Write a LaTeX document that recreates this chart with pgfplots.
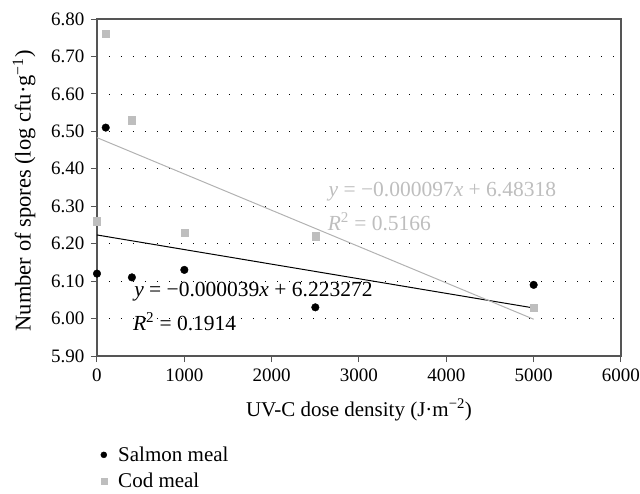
\documentclass[border=0pt]{standalone}
\usepackage{fontspec}
\setmainfont{Liberation Serif}
\usepackage{pgfplots}
\pgfplotsset{compat=1.18}
\definecolor{axgray}{RGB}{85,85,85}
\definecolor{codgray}{RGB}{190,190,190}
\definecolor{codline}{RGB}{178,178,178}
\begin{document}
\begin{tikzpicture}
\useasboundingbox (-97pt,-137pt) rectangle (543pt,356pt);
\begin{axis}[
  scale only axis, width=524pt, height=337pt,
  xmin=0, xmax=6000, ymin=5.90, ymax=6.80,
  xtick={0,1000,...,6000}, ytick={5.9,6.0,...,6.81},
  tick pos=left, tick align=outside,
  major tick length=6pt,
  axis line style={axgray, line width=1.1pt},
  every tick/.style={axgray, line width=1pt},
  ymajorgrids, major grid style={black, line width=0.7pt, dash pattern=on 0.7pt off 11.3pt},
  /pgf/number format/assume math mode=true,
  tick label style={font=\fontsize{19}{22}\selectfont},
  yticklabel style={xshift=-3pt, /pgf/number format/.cd, fixed, fixed zerofill, precision=2},
  xticklabel style={yshift=-3pt, /pgf/number format/1000 sep={}},
  xlabel={UV-C dose density (J·m\textsuperscript{−2})},
  ylabel={Number of spores (log cfu·g\textsuperscript{−1})},
  xlabel style={at={(axis description cs:0.5,-0.160)}, anchor=center, font=\fontsize{21}{24}\selectfont},
  ylabel style={at={(axis description cs:-0.139,0.49)}, anchor=center, font=\fontsize{22.5}{26}\selectfont},
  legend style={at={(0.0,-0.257)}, anchor=north west, draw=none, fill=none,
    font=\fontsize{21}{24}\selectfont, row sep=6pt, legend cell align=left,
    nodes={inner sep=2pt}},
  legend image code/.code={\draw[#1, mark size=3pt] plot coordinates {(0.12cm,0cm)}; \path (0cm,0cm) (0.55cm,0cm);},
  clip=false,
]
\addplot[only marks, mark=*, mark size=3.8pt, black] coordinates {
  (0,6.12) (100,6.51) (400,6.11) (1000,6.13) (2500,6.03) (5000,6.09)};
\addlegendentry{Salmon meal}
\addplot[only marks, mark=square*, mark size=3.6pt, codgray, mark options={draw=codgray, fill=codgray}] coordinates {
  (0,6.26) (100,6.76) (400,6.53) (1000,6.23) (2500,6.22) (5000,6.03)};
\addlegendentry{Cod meal}
\addplot[black, line width=1pt, forget plot] coordinates {(0,6.223272) (5000,6.028272)};
\addplot[codline, line width=1pt, forget plot] coordinates {(0,6.48318) (5000,5.99818)};
\node[anchor=west, inner sep=0pt, font=\fontsize{21.5}{24}\selectfont] at (axis cs:425,6.072) {\textit{y} = −0.000039\textit{x} + 6.223272};
\node[anchor=west, inner sep=0pt, font=\fontsize{21.5}{24}\selectfont] at (axis cs:410,5.992) {\textit{R}\textsuperscript{2} = 0.1914};
\node[anchor=west, inner sep=0pt, font=\fontsize{21.5}{24}\selectfont, text=codgray] at (axis cs:2650,6.339) {\textit{y} = −0.000097\textit{x} + 6.48318};
\node[anchor=west, inner sep=0pt, font=\fontsize{21.5}{24}\selectfont, text=codgray] at (axis cs:2640,6.259) {\textit{R}\textsuperscript{2} = 0.5166};
\end{axis}
\end{tikzpicture}
\end{document}
